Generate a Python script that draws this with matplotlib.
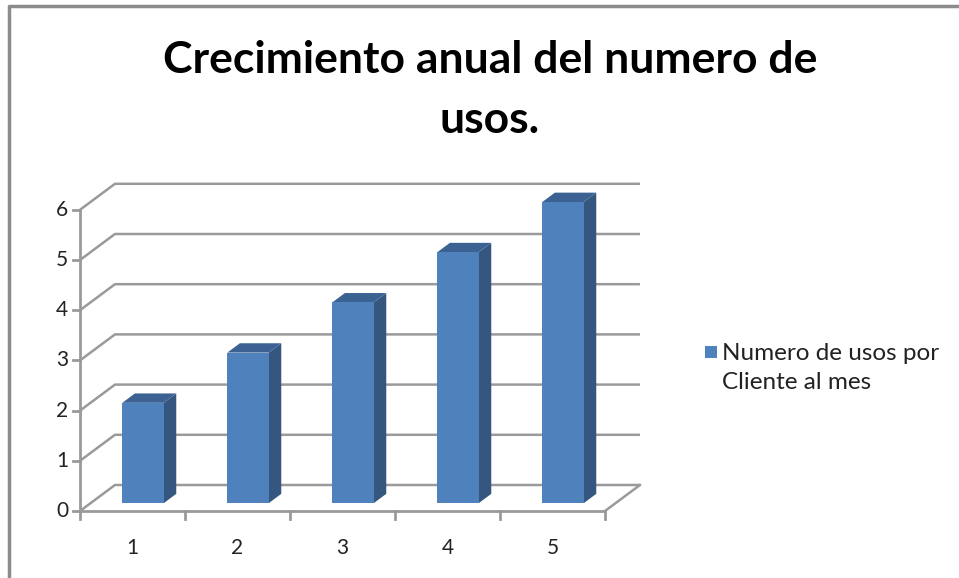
import matplotlib

matplotlib.use("Agg")
import matplotlib.pyplot as plt
from matplotlib.lines import Line2D
from matplotlib.patches import Polygon, Rectangle

# data
categories = ["1", "2", "3", "4", "5"]
usos = [2, 3, 4, 5, 6]
y_ticks = [0, 1, 2, 3, 4, 5, 6]
title = "Crecimiento anual del numero de\nusos."
series_label = "Numero de usos por\nCliente al mes"

FRONT = "#4F81BD"
SIDE = "#34567F"
TOP = "#3C6294"
GRID = "#9A9A9A"

# oblique "3d" projection: depth d in [0, 1] shifts right/up
DX, DY = 0.333, 0.518
PX_X, PX_Y = 105.0, 50.2  # pixels per category / per value unit
W, H = 959, 578
X0_PX, Y0_PX = 80, 511  # front origin in pixels


def proj(x, y, d):
    return (x + d * DX, y + d * DY)


fig = plt.figure(figsize=(W / 100, H / 100), dpi=100)
ax = fig.add_axes([0, 0, 1, 1])
ax.set_xlim(-X0_PX / PX_X, (W - X0_PX) / PX_X)
ax.set_ylim(-(H - Y0_PX) / PX_Y, Y0_PX / PX_Y)
ax.axis("off")

n = len(categories)

# walls: back gridlines + left wall diagonals
for t in y_ticks:
    x1, y1 = proj(0, t, 0)
    x2, y2 = proj(0, t, 1)
    x3, y3 = proj(n, t, 1)
    ax.plot([x1, x2, x3], [y1, y2, y3], color=GRID, lw=1.8, solid_capstyle="butt", zorder=1)

# floor right edge
fx1, fy1 = proj(n, 0, 0)
fx2, fy2 = proj(n, 0, 1)
ax.plot([fx1, fx2], [fy1, fy2], color=GRID, lw=1.8, zorder=1)

# bars
w, d0, d1 = 0.197, 0.3, 0.66
for i, v in enumerate(usos):
    c = i + 0.5
    front = [proj(c - w, 0, d0), proj(c + w, 0, d0), proj(c + w, v, d0), proj(c - w, v, d0)]
    side = [proj(c + w, 0, d0), proj(c + w, 0, d1), proj(c + w, v, d1), proj(c + w, v, d0)]
    top = [proj(c - w, v, d0), proj(c + w, v, d0), proj(c + w, v, d1), proj(c - w, v, d1)]
    ax.add_patch(Polygon(side, closed=True, fc=SIDE, ec="none", zorder=3))
    ax.add_patch(Polygon(top, closed=True, fc=TOP, ec="none", zorder=3))
    ax.add_patch(Polygon(front, closed=True, fc=FRONT, ec="none", zorder=4))

# axes lines
ax.plot([0, 0], [0, max(y_ticks)], color=GRID, lw=2, zorder=5)
ax.plot([0, n], [0, 0], color=GRID, lw=2, zorder=5)
tick_y = 7 / PX_X
for t in y_ticks:
    ax.plot([-tick_y, 0], [t, t], color=GRID, lw=2, zorder=5)
    ax.text(-18 / PX_X, t, str(t), ha="center", va="center", fontsize=15,
            family="Lato", color="#222222")
tick_x = 8 / PX_Y
for i in range(n + 1):
    ax.plot([i, i], [0, -tick_x], color=GRID, lw=2, zorder=5)
for i, lab in enumerate(categories):
    ax.text(i + 0.5, -37 / PX_Y, lab, ha="center", va="center", fontsize=15,
            family="Lato", color="#222222")

# title
fig.text(490 / W, 1 - 90 / H, title, ha="center", va="center", fontsize=32,
         fontweight="bold", family="Lato", linespacing=1.58, color="black")

# legend
fig.add_artist(Rectangle((705 / W, 1 - 358 / H), 12 / W, 12 / H,
                         transform=fig.transFigure, fc=FRONT, ec="none"))
fig.text(722 / W, 1 - 368 / H, series_label, ha="left", va="center", fontsize=17.5,
         family="Lato", linespacing=1.45, color="#222222")

# chart frame (top and left edges visible)
fig.add_artist(Line2D([8.5 / W, 8.5 / W, 1], [0, 1 - 6 / H, 1 - 6 / H],
                      transform=fig.transFigure, color="#8C8C8C", lw=2.5))

fig.savefig("out.png", dpi=100)
